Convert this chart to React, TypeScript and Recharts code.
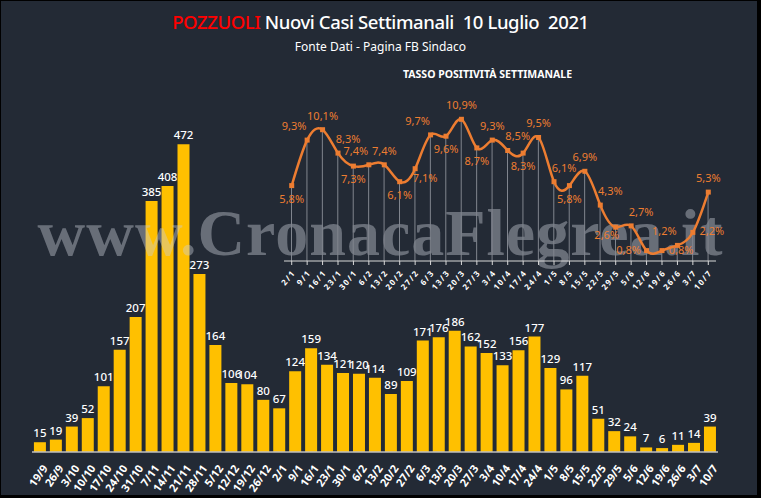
import React from "react";
import {
  BarChart,
  Bar,
  XAxis,
  YAxis,
  LabelList,
  ComposedChart,
  Line,
} from "recharts";

// weekly new cases (main bars)
const WEEKS = [
  "19/9", "26/9", "3/10", "10/10", "17/10", "24/10", "31/10", "7/11", "14/11",
  "21/11", "28/11", "5/12", "12/12", "19/12", "26/12", "2/1", "9/1", "16/1",
  "23/1", "30/1", "6/2", "13/2", "20/2", "27/2", "6/3", "13/3", "20/3", "27/3",
  "3/4", "10/4", "17/4", "24/4", "1/5", "8/5", "15/5", "22/5", "29/5", "5/6",
  "12/6", "19/6", "26/6", "3/7", "10/7",
];
const NEW_CASES = [
  15, 19, 39, 52, 101, 157, 207, 385, 408, 472, 273, 164, 106, 104, 80, 67, 124,
  159, 134, 121, 120, 114, 89, 109, 171, 176, 186, 162, 152, 133, 156, 177, 129,
  96, 117, 51, 32, 24, 7, 6, 11, 14, 39,
];

// weekly positivity rate (inset)
const RATE_WEEKS = [
  "2/1", "9/1", "16/1", "23/1", "30/1", "6/2", "13/2", "20/2", "27/2", "6/3",
  "13/3", "20/3", "27/3", "3/4", "10/4", "17/4", "24/4", "1/5", "8/5", "15/5",
  "22/5", "29/5", "5/6", "12/6", "19/6", "26/6", "3/7", "10/7",
];
const POSITIVITY = [
  5.8, 9.3, 10.1, 8.3, 7.3, 7.4, 7.4, 6.1, 7.1, 9.7, 9.6, 10.9, 8.7, 9.3, 8.5,
  8.3, 9.5, 6.1, 5.8, 6.9, 4.3, 2.6, 2.7, 0.8, 0.8, 1.2, 2.2, 5.3,
];

// where each percentage label sits around its point
const LABEL_SIDE = [
  "below", "aboveLeft", "above", "aboveRight", "below", "aboveLeft", "above",
  "below", "belowRight", "aboveLeft", "below", "above", "below", "above",
  "aboveRight", "below", "above", "aboveRight", "below", "above", "aboveRight",
  "belowLeft", "aboveRight", "left", "right", "aboveLeft", "right", "above",
];

const SIDE_OFFSET: Record<string, [number, number]> = {
  above: [0, -13],
  below: [0, 14],
  aboveLeft: [-13, -13],
  aboveRight: [10, -13],
  belowLeft: [-9, 9],
  belowRight: [10, 10],
  left: [-18, 0],
  right: [19, 0],
};

const W = 761;
const H = 498;
const FONT = "'Noto Sans', sans-serif";
const ORANGE = "#ED7D31";

const BarTick = (props: any) => {
  const { x, y, payload } = props;
  return (
    <g transform={`translate(${x + 5},${y + 6})`}>
      <text
        transform="rotate(-55)"
        textAnchor="end"
        dy={4}
        fill="#ffffff"
        fontSize={11}
        fontWeight={700}
        fontFamily={FONT}
      >
        {payload.value}
      </text>
    </g>
  );
};

const RateTick = (props: any) => {
  const { x, y, payload } = props;
  return (
    <g transform={`translate(${x + 2},${y + 4})`}>
      <text
        transform="rotate(-50)"
        textAnchor="end"
        dy={3}
        fill="#ffffff"
        fontSize={8}
        fontWeight={700}
        letterSpacing={1.5}
        fontFamily={FONT}
      >
        {payload.value}
      </text>
    </g>
  );
};

const SquareDot = (props: any) => {
  const { cx, cy } = props;
  if (cx == null || cy == null) return null;
  return <rect x={cx - 2.5} y={cy - 2.5} width={5} height={5} fill={ORANGE} />;
};

const RateLabel = (props: any) => {
  const { x, y, value, index } = props;
  const [dx, dy] = SIDE_OFFSET[LABEL_SIDE[index]] || [0, -12];
  return (
    <text
      x={x + dx}
      y={y + dy}
      textAnchor="middle"
      dominantBaseline="middle"
      fill={ORANGE}
      fontSize={11}
      fontFamily={FONT}
    >
      {String(value).replace(".", ",")}%
    </text>
  );
};

export default function App() {
  const barData = WEEKS.map((week, i) => ({ week, cases: NEW_CASES[i] }));
  const rateData = RATE_WEEKS.map((week, i) => ({ week, rate: POSITIVITY[i] }));

  return (
    <div
      style={{
        position: "absolute",
        left: 0,
        top: 0,
        width: W,
        height: H,
        background: "#000",
        overflow: "hidden",
        fontFamily: FONT,
      }}
    >
      <div
        style={{
          position: "absolute",
          left: 1,
          top: 1,
          width: 756,
          height: 494,
          background: "#232a35",
        }}
      />

      {/* titles */}
      <div
        style={{
          position: "absolute",
          left: 0,
          width: W,
          top: 9,
          textAlign: "center",
          color: "#fff",
          fontSize: 18.5,
          fontWeight: 500,
          letterSpacing: -0.4,
          whiteSpace: "pre",
        }}
      >
        <span style={{ color: "#ff0000" }}>POZZUOLI</span> Nuovi Casi Settimanali  10 Luglio  2021
      </div>
      <div
        style={{
          position: "absolute",
          left: 0,
          width: W,
          top: 38,
          textAlign: "center",
          color: "#fff",
          fontSize: 12,
        }}
      >
        Fonte Dati - Pagina FB Sindaco
      </div>
      <div
        style={{
          position: "absolute",
          left: 403,
          top: 67,
          color: "#fff",
          fontSize: 10.5,
          fontWeight: 700,
        }}
      >
        TASSO POSITIVITÀ SETTIMANALE
      </div>

      {/* weekly cases */}
      <div style={{ position: "absolute", left: 0, top: 0 }}>
        <BarChart
          width={W}
          height={H}
          data={barData}
          margin={{ top: 126, right: 43, bottom: 4, left: 32 }}
          barCategoryGap="12%"
        >
          <XAxis
            dataKey="week"
            interval={0}
            tickLine={false}
            axisLine={{ stroke: "#bfbfbf", strokeWidth: 1.5 }}
            height={42}
            tick={<BarTick />}
          />
          <YAxis hide domain={[0, 500]} />
          <Bar dataKey="cases" fill="#FFC000" isAnimationActive={false}>
            <LabelList
              dataKey="cases"
              position="top"
              offset={5}
              fill="#ffffff"
              fontSize={11.5}
              fontWeight={500}
              fontFamily={FONT}
            />
          </Bar>
        </BarChart>
      </div>

      {/* watermark */}
      <div
        style={{
          position: "absolute",
          left: 0,
          width: W,
          top: 195,
          textAlign: "center",
          fontFamily: "'Liberation Serif', serif",
          fontWeight: 700,
          fontSize: 66,
          letterSpacing: 1,
          color: "rgba(200,205,215,0.42)",
          pointerEvents: "none",
          whiteSpace: "nowrap",
        }}
      >
        www.CronacaFlegrea.it
      </div>

      {/* positivity inset */}
      <div style={{ position: "absolute", left: 0, top: 0 }}>
        <ComposedChart
          width={W}
          height={H}
          data={rateData}
          margin={{ top: 105, right: 45, bottom: 207, left: 284 }}
        >
          <XAxis
            dataKey="week"
            interval={0}
            height={30}
            axisLine={{ stroke: "#d9d9d9" }}
            tickLine={{ stroke: "#d9d9d9" }}
            tickSize={4}
            tick={<RateTick />}
          />
          <YAxis hide domain={[0, 12]} />
          <Bar dataKey="rate" barSize={1} fill="#80858e" isAnimationActive={false} />
          <Line
            type="natural"
            dataKey="rate"
            stroke={ORANGE}
            strokeWidth={2.5}
            dot={<SquareDot />}
            activeDot={false}
            isAnimationActive={false}
          >
            <LabelList dataKey="rate" content={<RateLabel />} />
          </Line>
        </ComposedChart>
      </div>
    </div>
  );
}
